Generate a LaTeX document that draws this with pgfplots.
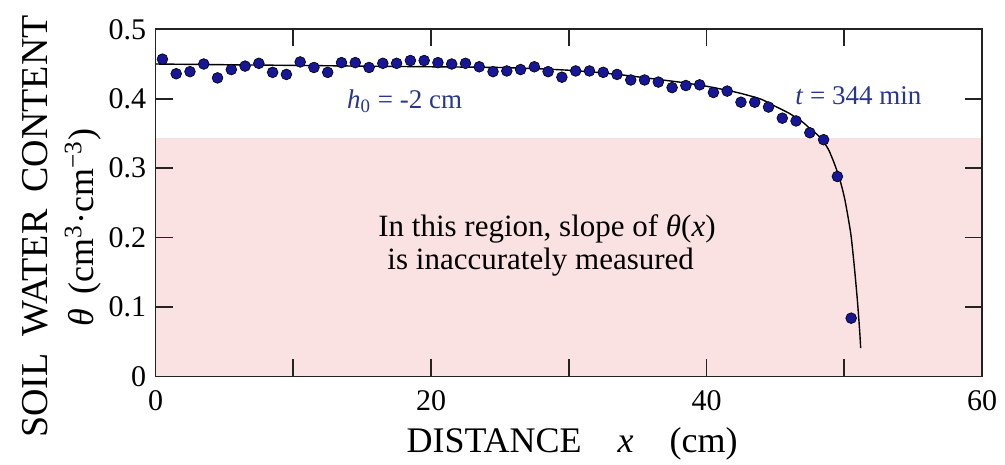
\documentclass[border=0pt]{standalone}
\usepackage{pgfplots}
\pgfplotsset{compat=1.18}
\usepackage{fontspec}
\setmainfont{Liberation Serif}
\definecolor{dotfill}{RGB}{22,22,150}
\definecolor{textblue}{RGB}{40,55,140}
\definecolor{shade}{RGB}{251,226,226}
\definecolor{axcol}{RGB}{35,35,35}
\begin{document}
\begin{tikzpicture}
\begin{axis}[
  scale only axis,
  width=413.25pt, height=173.6pt,
  xmin=0, xmax=60, ymin=0, ymax=0.5,
  axis on top,
  clip=false,
  axis line style={axcol, line width=0.9pt},
  every tick/.style={axcol, line width=0.8pt},
  major tick length=8.5pt,
  tick align=inside,
  tick pos=both,
  xtick={0,10,...,60},
  xticklabels={0,,20,,40,,60},
  ytick={0,0.1,0.2,0.3,0.4,0.5},
  yticklabels={0,0.1,0.2,0.3,0.4,0.5},
  /pgf/number format/assume math mode=true,
  tick label style={font=\fontsize{15}{15}\selectfont, text=black},
  xticklabel style={anchor=north, inner sep=0pt, yshift=-7pt},
  yticklabel style={anchor=east, inner sep=0pt, xshift=-4.5pt},
]
% shaded region
\addplot[draw=none, fill=shade, forget plot] coordinates {(0,0) (60,0) (60,0.343) (0,0.343)} -- cycle;

% model curve
\addplot[black, line width=0.7pt, smooth, tension=0.4, no marks] coordinates {
(0,0.450) (5,0.449) (10,0.448) (15,0.447) (20,0.446) (25,0.445) (28,0.443)
(30,0.441) (32,0.438) (34,0.434) (36,0.429) (38,0.424) (40,0.418) (42,0.410)
(43,0.405) (44,0.399) (45,0.389) (46,0.379) (47,0.366) (47.5,0.357) (48,0.349)
(48.44,0.340) (48.9,0.325) (49.33,0.304) (49.7,0.282) (50.05,0.254) (50.47,0.206)
(50.73,0.158) (50.95,0.110) (51.12,0.065) (51.19,0.041)
};

% measurements
\addplot[only marks, mark=*, mark size=2.7pt,
  mark options={fill=dotfill, draw=black, line width=0.3pt}] coordinates {
(0.5,0.457) (1.5,0.436) (2.5,0.439) (3.5,0.450) (4.5,0.430) (5.5,0.442)
(6.5,0.447) (7.5,0.451) (8.5,0.438) (9.5,0.435) (10.5,0.453) (11.5,0.445)
(12.5,0.438) (13.5,0.452) (14.5,0.452) (15.5,0.445) (16.5,0.451) (17.5,0.451)
(18.5,0.455) (19.5,0.455) (20.5,0.452) (21.5,0.450) (22.5,0.451) (23.5,0.446)
(24.5,0.439) (25.5,0.440) (26.5,0.442) (27.5,0.446) (28.5,0.439) (29.5,0.431)
(30.5,0.440) (31.5,0.440) (32.5,0.438) (33.5,0.435) (34.5,0.427) (35.5,0.427)
(36.5,0.424) (37.5,0.416) (38.5,0.419) (39.5,0.420) (40.5,0.409) (41.5,0.411)
(42.5,0.395) (43.5,0.395) (44.5,0.388) (45.5,0.372) (46.5,0.368) (47.5,0.351)
(48.5,0.341) (49.5,0.288) (50.5,0.084)
};

% annotations
\node[anchor=base west, inner sep=0pt, text=textblue, font=\fontsize{13.5}{13.5}\selectfont]
  at (axis cs:13.88,0.386) {\textit{h}\textsubscript{0} = -2 cm};
\node[anchor=base west, inner sep=0pt, text=textblue, font=\fontsize{13.5}{13.5}\selectfont]
  at (axis cs:46.42,0.391) {\textit{t} = 344 min};
\node[anchor=base west, inner sep=0pt, font=\fontsize{15.5}{15.5}\selectfont]
  at (axis cs:16.15,0.2013) {In this region, slope of \textit{θ}(\textit{x})};
\node[anchor=base west, inner sep=0pt, font=\fontsize{15.5}{15.5}\selectfont]
  at (axis cs:16.81,0.1534) {is inaccurately measured};

% axis labels
\node[rotate=90, anchor=center, inner sep=0pt, font=\fontsize{19}{19}\selectfont]
  at (rel axis cs:-0.1452,0.432) {SOIL\hspace{0.45em}WATER\hspace{0.45em}CONTENT};
\node[rotate=90, anchor=center, inner sep=0pt, font=\fontsize{18}{18}\selectfont]
  at (rel axis cs:-0.0877,0.429) {\textit{θ}\hspace{0.4em}(cm\textsuperscript{3}·cm\textsuperscript{−3})};
\node[anchor=base, inner sep=0pt, font=\fontsize{18}{18}\selectfont]
  at (rel axis cs:0.504,-0.2203) {DISTANCE\hspace{1em}\textit{x}\hspace{1em}(cm)};

\coordinate (bbA) at (rel axis cs:-0.1882,-0.2549);
\coordinate (bbB) at (rel axis cs:1.0278,1.0844);
\end{axis}
\pgfresetboundingbox
\useasboundingbox (bbA) rectangle (bbB);
\end{tikzpicture}
\end{document}
